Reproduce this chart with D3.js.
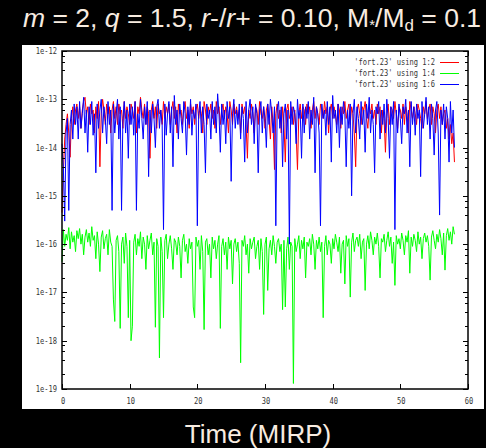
<!DOCTYPE html>
<html>
<head>
<meta charset="utf-8">
<script src="https://cdn.jsdelivr.net/npm/d3@7"></script>
<style>
  html, body { margin: 0; padding: 0; background: #000; }
  svg { display: block; }
</style>
</head>
<body>
<svg id="chart" width="486" height="448"></svg>
<script>
// sampling step of the output (MIRP)
var dt = 0.2;

// 'fort.23' using 1:2, values in units of 1e-14
var red = [
  0.045, 0.3, 1.5, 3, 5, 2, 0.63, 4, 7, 3,
  6, 8, 4, 7, 2.5, 6, 9, 11, 5, 7,
  3, 8, 5, 6, 2, 7, 4, 9, 0.4, 5,
  10, 6, 3, 8, 5, 7, 2, 6, 9, 4,
  7, 3, 8, 5, 6, 2.5, 9, 4, 7, 5,
  3, 8, 6, 4, 9, 2, 7, 5, 11, 6,
  4, 8, 3, 7, 5, 0.6, 6, 9, 4, 7,
  2.5, 8, 5, 6, 3, 9, 4, 7, 5, 8,
  3, 6, 9, 4, 7, 2, 8, 5, 6, 3,
  7, 9, 4, 6, 2.5, 8, 5, 7, 3, 6,
  8, 4, 7, 5, 2, 9, 6, 3, 7, 5,
  8, 4, 6, 2.5, 9, 5, 7, 3, 6, 8,
  4, 7, 5, 2, 9, 6, 3, 8, 5, 7,
  4, 6, 2, 8, 5, 7, 3, 0.6, 6, 4,
  8, 5, 2, 7, 6, 3, 9, 5, 4, 7,
  2.5, 6, 8, 4, 1.5, 7, 3, 0.35, 5, 8,
  4, 6, 2, 7, 3, 0.5, 6, 8, 4, 5,
  7, 3, 6, 2, 0.35, 5, 8, 4, 7, 6,
  3, 8, 5, 7, 2.5, 6, 9, 4, 7, 5,
  3, 8, 6, 4, 9, 5, 7, 2, 6, 8,
  4, 7, 5, 3, 8, 6, 2.5, 7, 5, 9,
  4, 6, 8, 3, 7, 5, 2, 0.4, 6, 8,
  5, 3, 7, 6, 9, 4, 2.5, 7, 5, 8,
  4, 6, 3, 8, 5, 7, 2, 6, 4, 0.8,
  5, 8, 3, 7, 6, 4, 9, 5, 2.5, 7,
  6, 4, 8, 3, 7, 5, 2, 9, 6, 4,
  7, 5, 3, 8, 6, 4, 2.5, 7, 5, 9,
  4, 6, 8, 3, 7, 5, 2, 6, 8, 4,
  7, 3, 5, 6, 2.5, 4, 1.5, 3, 1.2, 2,
  0.5
];

// 'fort.23' using 1:4, values in units of 1e-17
var green = [
  4.3, 20, 9, 16, 12, 22, 8, 18, 11, 15,
  7, 19, 13, 21, 10, 16, 6, 14, 20, 11,
  17, 9, 23, 12, 15, 5, 18, 10, 2.7, 14,
  19, 8, 13, 16, 6, 20, 11, 9, 0.7, 0.25,
  12, 15, 7, 0.18, 10, 14, 4, 17, 9, 0.3,
  12, 0.1, 0.2, 11, 16, 6, 13, 9, 18, 5,
  14, 10, 3, 15, 8, 12, 17, 6, 11, 0.19,
  13, 9, 0.044, 14, 7, 0.3, 12, 16, 5, 10,
  15, 8, 3, 13, 11, 6, 14, 9, 2, 12,
  16, 7, 10, 4, 13, 8, 11, 0.5, 0.3, 14,
  9, 12, 3, 15, 7, 0.17, 11, 13, 6, 10,
  2, 14, 8, 12, 5, 10, 15, 0.18, 9, 13,
  6, 11, 3, 14, 8, 12, 1.5, 10, 13, 7,
  11, 4, 0.035, 12, 9, 15, 6, 10, 2.5, 13,
  8, 11, 14, 5, 9, 12, 3, 13, 7, 0.35,
  10, 14, 1.1, 8, 12, 6, 15, 9, 4, 11,
  13, 7, 10, 0.44, 12, 0.5, 8, 14, 3, 11,
  9, 0.013, 13, 7, 10, 15, 5, 12, 8, 14,
  2, 11, 9, 13, 6, 16, 10, 3, 12, 8,
  14, 7, 11, 0.3, 9, 15, 6, 12, 10, 4,
  13, 8, 16, 11, 7, 14, 2.5, 10, 12, 1.5,
  15, 9, 13, 0.8, 11, 17, 7, 12, 14, 9,
  16, 5, 11, 13, 1.1, 10, 15, 8, 18, 12,
  6, 14, 10, 17, 9, 2, 13, 11, 16, 7,
  12, 18, 9, 14, 4, 11, 1.4, 15, 10, 13,
  8, 17, 12, 6, 15, 11, 19, 2.5, 14, 9,
  16, 12, 7, 18, 10, 14, 5, 13, 17, 11,
  15, 9, 1.8, 14, 19, 12, 8, 16, 11, 20,
  13, 6, 17, 2.9, 15, 21, 12, 18, 10, 23,
  16
];

// 'fort.23' using 1:6, values in units of 1e-14
var blue = [
  1.2, 0.4, 0.03, 2, 4, 0.05, 3, 6, 1.5, 8,
  3, 7, 1.5, 9, 2.5, 5, 11, 2, 6, 0.8,
  7, 3, 9, 1.8, 5, 0.3, 8, 2.5, 6, 10,
  2, 7, 4, 1.2, 9, 3, 6, 0.05, 8, 2,
  5, 10, 1.5, 7, 0.05, 4, 9, 2, 6, 0.6,
  8, 3, 7, 1.8, 9, 0.05, 5, 2.5, 10, 4,
  1.5, 7, 3, 9, 0.25, 6, 2, 8, 4, 1,
  7, 10, 2.5, 6, 3, 0.02, 8, 1.8, 5, 9,
  2, 7, 0.4, 12, 3, 6, 1.5, 8, 4, 2,
  9, 5, 0.7, 7, 3, 10, 1.8, 6, 4, 8,
  0.024, 5, 9, 2, 7, 3, 0.3, 8, 4, 6,
  1.5, 9, 3, 7, 2, 13, 5, 0.8, 8, 3,
  6, 1.2, 9, 4, 7, 0.2, 5, 10, 2.5, 6,
  3, 8, 1.5, 7, 4, 0.5, 9, 2, 6, 10,
  3, 7, 1.2, 8, 5, 0.3, 6, 9, 2, 7,
  4, 1, 8, 3, 10, 5, 2, 7, 0.024, 6,
  9, 2.5, 7, 0.4, 5, 8, 1.5, 6, 0.01, 9,
  3, 7, 5, 1.2, 10, 4, 6, 0.6, 8, 2,
  7, 4, 9, 1.5, 6, 3, 11, 0.3, 7, 5,
  2, 0.024, 8, 4, 6, 1.8, 9, 3, 7, 0.5,
  12, 4, 6, 2, 8, 1, 7, 3, 9, 5,
  0.4, 6, 2.5, 8, 0.1, 5, 10, 2, 7, 4,
  1.5, 9, 3, 6, 0.8, 8, 4, 11, 2, 6,
  3, 0.3, 7, 5, 9, 1.5, 6, 3, 8, 2,
  10, 4, 0.6, 7, 3, 9, 0.02, 6, 2, 8,
  4, 1.2, 7, 5, 10, 2, 6, 0.4, 9, 3,
  7, 1.8, 8, 4, 6, 0.25, 9, 2.5, 5, 11,
  3, 7, 1.5, 8, 4, 0.7, 6, 9, 2, 0.04,
  6, 3, 8, 1.5, 7, 4, 0.5, 9, 2, 6,
  1
];

var xTicks = [0, 10, 20, 30, 40, 50, 60];
var yTicks = [1e-19, 1e-18, 1e-17, 1e-16, 1e-15, 1e-14, 1e-13, 1e-12];
var yTickLabels = ["1e-19", "1e-18", "1e-17", "1e-16", "1e-15", "1e-14", "1e-13", "1e-12"];
var legendLabels = ["'fort.23' using 1:2", "'fort.23' using 1:4", "'fort.23' using 1:6"];
var colors = ["#ff0000", "#00ff00", "#0000ff"];

// plot frame inside the white panel
var frame = {left: 62, right: 468, top: 51, bottom: 389};
var charW = 4.25; // width of one char of the small gnuplot font

var svg = d3.select("#chart");

// white panel
svg.append("rect")
    .attr("x", 22).attr("y", 45)
    .attr("width", 462).attr("height", 364)
    .attr("fill", "#fff");

var x = d3.scaleLinear().domain([0, 60]).range([frame.left, frame.right]);
var y = d3.scaleLog().domain([1e-19, 1e-12]).range([frame.bottom, frame.top]);

var plot = svg.append("g");

// series, drawn in gnuplot order so the blue one ends on top
var series = [
  {vals: red, unit: 1e-14, color: colors[0]},
  {vals: green, unit: 1e-17, color: colors[1]},
  {vals: blue, unit: 1e-14, color: colors[2]}
];
var line = d3.line()
    .x(function(d) { return x(d[0]); })
    .y(function(d) { return y(d[1]); });

series.forEach(function(s) {
  var pts = s.vals.map(function(v, i) { return [i * dt, v * s.unit]; });
  plot.append("path")
      .attr("d", line(pts))
      .attr("fill", "none")
      .attr("stroke", s.color)
      .attr("stroke-width", 1);
});

// ticks, gnuplot style: inward and mirrored
var ticks = svg.append("g").attr("stroke", "#000").attr("stroke-width", 1);
xTicks.forEach(function(t) {
  var px = Math.round(x(t)) + 0.5;
  ticks.append("line").attr("x1", px).attr("x2", px)
      .attr("y1", frame.bottom).attr("y2", frame.bottom - 5);
  ticks.append("line").attr("x1", px).attr("x2", px)
      .attr("y1", frame.top).attr("y2", frame.top + 5);
});
yTicks.forEach(function(t, i) {
  var py = Math.round(y(t)) + 0.5;
  ticks.append("line").attr("x1", frame.left).attr("x2", frame.left + 5)
      .attr("y1", py).attr("y2", py);
  ticks.append("line").attr("x1", frame.right).attr("x2", frame.right - 5)
      .attr("y1", py).attr("y2", py);
  if (i < yTicks.length - 1) {
    [2, 4, 6, 8].forEach(function(m) {
      var my = Math.round(y(t * m)) + 0.5;
      ticks.append("line").attr("x1", frame.left).attr("x2", frame.left + 3)
          .attr("y1", my).attr("y2", my);
      ticks.append("line").attr("x1", frame.right).attr("x2", frame.right - 3)
          .attr("y1", my).attr("y2", my);
    });
  }
});

// frame
svg.append("rect")
    .attr("x", frame.left).attr("y", frame.top)
    .attr("width", frame.right - frame.left)
    .attr("height", frame.bottom - frame.top)
    .attr("fill", "none")
    .attr("stroke", "#000")
    .attr("stroke-width", 1.5);

// tick labels
var small = "'DejaVu Sans Mono', monospace";
svg.append("g").selectAll("text")
    .data(yTicks)
  .enter().append("text")
    .attr("x", frame.left - 5)
    .attr("y", function(d) { return y(d) + 3; })
    .attr("text-anchor", "end")
    .attr("font-family", small)
    .attr("font-size", 8.5)
    .attr("fill", "#333")
    .attr("textLength", function(d, i) { return yTickLabels[i].length * charW; })
    .attr("lengthAdjust", "spacingAndGlyphs")
    .text(function(d, i) { return yTickLabels[i]; });

svg.append("g").selectAll("text")
    .data(xTicks)
  .enter().append("text")
    .attr("x", function(d) { return x(d) + 1; })
    .attr("y", frame.bottom + 15)
    .attr("text-anchor", "middle")
    .attr("font-family", small)
    .attr("font-size", 8.5)
    .attr("fill", "#333")
    .attr("textLength", function(d) { return String(d).length * charW; })
    .attr("lengthAdjust", "spacingAndGlyphs")
    .text(function(d) { return d; });

// legend
var legend = svg.append("g");
legendLabels.forEach(function(lab, i) {
  var ly = 62 + i * 11;
  legend.append("text")
      .attr("x", 435).attr("y", ly + 3)
      .attr("text-anchor", "end")
      .attr("font-family", small)
      .attr("font-size", 8.5)
      .attr("fill", "#333")
      .attr("textLength", lab.length * charW)
      .attr("lengthAdjust", "spacingAndGlyphs")
      .text(lab);
  legend.append("line")
      .attr("x1", 440).attr("x2", 459)
      .attr("y1", ly + 0.5).attr("y2", ly + 0.5)
      .attr("stroke", colors[i])
      .attr("stroke-width", 1);
});

// title and x label on the black background
var cream = "#f8ece0";
var title = svg.append("text")
    .attr("x", 252).attr("y", 27)
    .attr("text-anchor", "middle")
    .attr("font-family", "'Liberation Sans', Arial, sans-serif")
    .attr("font-size", 26.5)
    .attr("fill", cream);
title.append("tspan").attr("font-style", "italic").text("m");
title.append("tspan").text(" = 2, ");
title.append("tspan").attr("font-style", "italic").text("q");
title.append("tspan").text(" = 1.5, ");
title.append("tspan").attr("font-style", "italic").text("r");
title.append("tspan").text("-/");
title.append("tspan").attr("font-style", "italic").text("r");
title.append("tspan").text("+ = 0.10, M");
title.append("tspan").attr("font-size", 15).attr("dy", 3).text("*");
title.append("tspan").attr("dy", -3).text("/M");
title.append("tspan").attr("font-size", 17).attr("dy", 4).text("d");
title.append("tspan").attr("dy", -4).text(" = 0.1");

svg.append("text")
    .attr("x", 258).attr("y", 443)
    .attr("text-anchor", "middle")
    .attr("font-family", "'Liberation Sans', Arial, sans-serif")
    .attr("font-size", 26)
    .attr("fill", cream)
    .text("Time (MIRP)");
</script>
</body>
</html>
